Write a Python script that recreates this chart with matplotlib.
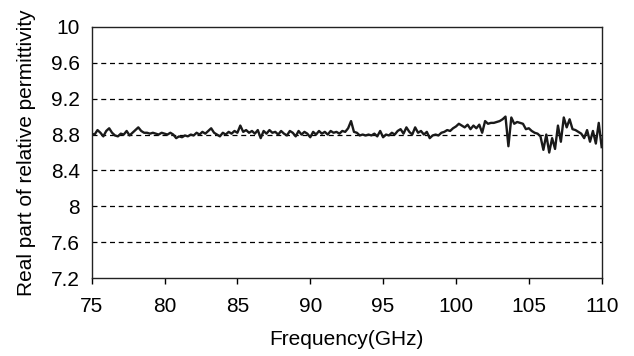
import numpy as np
import matplotlib
matplotlib.use("Agg")
import matplotlib.pyplot as plt

plt.rcParams['font.family'] = ['Liberation Sans', 'DejaVu Sans']

# frequency grid, 0.2 GHz steps
freq = np.round(np.arange(75.0, 110.001, 0.2), 1)

# real part of relative permittivity, one row per GHz
eps_real = [
    8.81, 8.80, 8.85, 8.82, 8.78,   # 75
    8.84, 8.87, 8.82, 8.79, 8.78,   # 76
    8.81, 8.80, 8.84, 8.79, 8.82,   # 77
    8.85, 8.88, 8.84, 8.82, 8.82,   # 78
    8.81, 8.82, 8.81, 8.80, 8.82,   # 79
    8.81, 8.80, 8.82, 8.80, 8.76,   # 80
    8.78, 8.77, 8.79, 8.78, 8.80,   # 81
    8.79, 8.82, 8.80, 8.83, 8.81,   # 82
    8.84, 8.87, 8.82, 8.80, 8.78,   # 83
    8.82, 8.80, 8.83, 8.81, 8.84,   # 84
    8.82, 8.90, 8.83, 8.85, 8.82,   # 85
    8.84, 8.81, 8.85, 8.76, 8.84,   # 86
    8.81, 8.85, 8.82, 8.83, 8.80,   # 87
    8.84, 8.81, 8.79, 8.84, 8.82,   # 88
    8.78, 8.84, 8.80, 8.83, 8.81,   # 89
    8.77, 8.83, 8.80, 8.84, 8.81,   # 90
    8.83, 8.80, 8.84, 8.82, 8.83,   # 91
    8.81, 8.84, 8.83, 8.87, 8.95,   # 92
    8.83, 8.82, 8.79, 8.80, 8.79,   # 93
    8.80, 8.79, 8.81, 8.78, 8.84,   # 94
    8.77, 8.80, 8.79, 8.82, 8.80,   # 95
    8.84, 8.86, 8.81, 8.88, 8.83,   # 96
    8.80, 8.88, 8.82, 8.84, 8.80,   # 97
    8.83, 8.76, 8.79, 8.80, 8.79,   # 98
    8.82, 8.83, 8.85, 8.84, 8.87,   # 99
    8.89, 8.92, 8.90, 8.88, 8.91,   # 100
    8.86, 8.90, 8.87, 8.91, 8.82,   # 101
    8.95, 8.92, 8.93, 8.93, 8.94,   # 102
    8.95, 8.97, 9.00, 8.67, 8.99,   # 103
    8.92, 8.94, 8.93, 8.92, 8.86,   # 104
    8.87, 8.84, 8.82, 8.81, 8.78,   # 105
    8.63, 8.80, 8.60, 8.76, 8.64,   # 106
    8.90, 8.72, 8.99, 8.88, 8.97,   # 107
    8.86, 8.85, 8.83, 8.81, 8.76,   # 108
    8.85, 8.72, 8.84, 8.70, 8.93,   # 109
    8.66,                           # 110
]

x_ticks = [75, 80, 85, 90, 95, 100, 105, 110]
y_ticks = [7.2, 7.6, 8, 8.4, 8.8, 9.2, 9.6, 10]
y_tick_labels = ['7.2', '7.6', '8', '8.4', '8.8', '9.2', '9.6', '10']

fig = plt.figure(figsize=(6.34, 3.56), dpi=100)
ax = fig.add_axes([0.1446, 0.2182, 0.8044, 0.7067])

# dashed horizontal grid
for y in y_ticks[1:-1]:
    ax.axhline(y, color='black', lw=0.9, ls=(0, (4, 3)), zorder=1)

ax.plot(freq, eps_real, color='#1a1a1a', lw=1.7, zorder=3)

ax.set_xlim(75, 110)
ax.set_ylim(7.2, 10)
ax.set_xticks(x_ticks)
ax.set_yticks(y_ticks)
ax.set_yticklabels(y_tick_labels)
ax.tick_params(axis='x', direction='out', length=4.3, width=1, labelsize=15, pad=9.2)
ax.tick_params(axis='y', direction='in', length=0, labelsize=15, pad=8.5)
for s in ax.spines.values():
    s.set_linewidth(1.0)
    s.set_color('#222222')

ax.set_xlabel('Frequency(GHz)', fontsize=15, labelpad=10)
ax.set_ylabel('Real part of relative permittivity', fontsize=15, labelpad=11)

fig.savefig('out.png', dpi=100)
